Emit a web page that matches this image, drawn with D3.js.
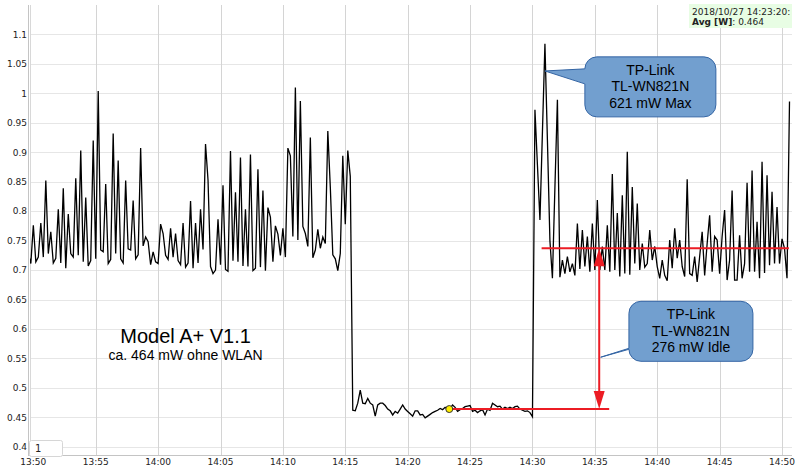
<!DOCTYPE html>
<html>
<head>
<meta charset="utf-8">
<script src="https://cdn.jsdelivr.net/npm/d3@7"></script>
<style>
  body { margin: 0; background: #fff; }
  svg { display: block; font-family: "DejaVu Sans", sans-serif; }
</style>
</head>
<body>
<div id="chart"></div>
<script>
// Samples every 12 s, starting 2018-10-27 13:49:36
const startTime = new Date(2018, 9, 27, 13, 49, 36);
const stepSeconds = 12;

// before the stick is removed (~0.72 W with spikes)
const wattsBefore = [
  0.728, 0.711, 0.776, 0.714, 0.722, 0.780, 0.722, 0.852, 0.728, 0.765,
  0.712, 0.720, 0.803, 0.712, 0.839, 0.703, 0.795, 0.728, 0.722, 0.856,
  0.725, 0.903, 0.714, 0.823, 0.707, 0.716, 0.920, 0.719, 1.004, 0.734,
  0.731, 0.846, 0.711, 0.718, 0.932, 0.728, 0.886, 0.719, 0.712, 0.852,
  0.736, 0.734, 0.818, 0.719, 0.726, 0.907, 0.741, 0.756, 0.748, 0.709,
  0.731, 0.714, 0.711, 0.778, 0.762, 0.725, 0.718, 0.771, 0.722, 0.762,
  0.716, 0.709, 0.780, 0.705, 0.712, 0.817,
  0.703, 0.780, 0.712, 0.803, 0.735, 0.914, 0.853, 0.706, 0.694, 0.700,
  0.786, 0.709, 0.844, 0.701, 0.698, 0.902, 0.716, 0.832, 0.714, 0.891,
  0.707, 0.803, 0.706, 0.896, 0.699, 0.703, 0.871, 0.705, 0.835, 0.699,
  0.806, 0.790, 0.714, 0.775, 0.761, 0.725, 0.771, 0.722, 0.907, 0.894,
  0.757, 1.010, 0.751, 0.987, 0.774, 0.762, 0.740, 0.925, 0.721, 0.734,
  0.769, 0.737, 0.756, 0.745, 0.936, 0.841, 0.726, 0.719, 0.699, 0.728,
  0.894, 0.778, 0.903, 0.859
];

// without WLAN stick (~0.464 W)
const wattsNoWlan = [
  0.462, 0.461, 0.474, 0.496, 0.474, 0.473, 0.482, 0.474, 0.471, 0.452,
  0.471, 0.474, 0.474, 0.470, 0.464, 0.461, 0.454, 0.460, 0.457, 0.464,
  0.471, 0.464, 0.460, 0.456, 0.452, 0.461, 0.461, 0.454, 0.455, 0.449,
  0.452, 0.455, 0.458, 0.460, 0.462, 0.465, 0.463, 0.467, 0.464, 0.465,
  0.471, 0.467, 0.460, 0.463, 0.465, 0.468, 0.469, 0.470, 0.460, 0.462,
  0.458, 0.461, 0.463, 0.454, 0.464, 0.462, 0.474, 0.471, 0.468, 0.469,
  0.464, 0.467, 0.465, 0.467, 0.465, 0.468, 0.469, 0.464, 0.462, 0.460,
  0.461, 0.458, 0.451
];

// TP-Link TL-WN821N plugged in again
const wattsAfter = [
  0.972, 0.878, 0.785, 0.935, 1.084, 0.920, 0.750, 0.686, 0.840, 0.989,
  0.688, 0.717, 0.694, 0.723, 0.697, 0.711, 0.691, 0.779, 0.702, 0.768,
  0.706, 0.757, 0.697, 0.779, 0.700, 0.819, 0.700, 0.740, 0.700, 0.776,
  0.697, 0.863, 0.700, 0.797, 0.689, 0.827, 0.694, 0.901, 0.692, 0.841,
  0.711, 0.813, 0.700, 0.745, 0.705, 0.711,
  0.768, 0.717, 0.740, 0.706, 0.686, 0.717, 0.691, 0.682, 0.751, 0.703,
  0.771, 0.720, 0.751, 0.706, 0.689, 0.854, 0.694, 0.691, 0.723, 0.680,
  0.723, 0.765, 0.691, 0.745, 0.793, 0.697, 0.757, 0.751, 0.694, 0.757,
  0.802, 0.683, 0.717, 0.835, 0.683, 0.683, 0.759, 0.686, 0.711, 0.848,
  0.697, 0.869, 0.697, 0.782, 0.686, 0.884, 0.695, 0.861, 0.708, 0.833,
  0.711, 0.807, 0.711, 0.753, 0.737, 0.686, 0.986
];

const yTicks = [0.4, 0.45, 0.5, 0.55, 0.6, 0.65, 0.7, 0.75, 0.8, 0.85, 0.9, 0.95, 1, 1.05, 1.1];

// hovered point shown in the legend
const hoverTime = new Date(2018, 9, 27, 14, 23, 20);
const hoverValue = 0.464;
const seriesName = 'Avg [W]';

// annotation levels
const idleLevel = 0.464;
const wlanLevel = 0.737;
const idleLineEnd = new Date(2018, 9, 27, 14, 36, 9);
const wlanLineStart = new Date(2018, 9, 27, 14, 30, 44);
const wlanLineEnd = new Date(2018, 9, 27, 14, 50, 33);
const arrowTime = new Date(2018, 9, 27, 14, 35, 21);

const callouts = [
  { lines: ['TP-Link', 'TL-WN821N', '621 mW Max'],
    box: [new Date(2018, 9, 27, 14, 39, 27), 1.011], tip: [new Date(2018, 9, 27, 14, 31, 0), 1.038],
    w: 131, h: 60, tailTop: 0, tailBottom: 15 },
  { lines: ['TP-Link', 'TL-WN821N', '276 mW Idle'],
    box: [new Date(2018, 9, 27, 14, 42, 42), 0.596], tip: [new Date(2018, 9, 27, 14, 35, 28), 0.552],
    w: 124, h: 60, tailTop: 35, tailBottom: 48 }
];

const watts = wattsBefore.concat(wattsNoWlan, wattsAfter);
const data = watts.map((v, i) => ({ t: new Date(startTime.getTime() + i * stepSeconds * 1000), v }));

const W = 800, H = 474;
const plot = { left: 30, right: 792, top: 5, bottom: 455 };

const svg = d3.select('#chart').append('svg')
  .attr('width', W).attr('height', H);

const x = d3.scaleTime()
  .domain([new Date(2018, 9, 27, 13, 49, 44), new Date(2018, 9, 27, 14, 50, 48)])
  .range([plot.left, plot.right]);

const y = d3.scaleLinear()
  .domain([0.386, 1.15])
  .range([plot.bottom, plot.top]);

const xTicks = x.ticks(d3.timeMinute.every(5));

// grid
svg.append('g').selectAll('line.h').data(yTicks).join('line')
  .attr('x1', plot.left).attr('x2', plot.right)
  .attr('y1', d => Math.round(y(d)) + 0.5).attr('y2', d => Math.round(y(d)) + 0.5)
  .attr('stroke', '#e6e6e6').attr('stroke-width', 1);

svg.append('g').selectAll('line.v').data(xTicks.filter(d => x(d) - plot.left > 5)).join('line')
  .attr('x1', d => Math.round(x(d)) + 0.5).attr('x2', d => Math.round(x(d)) + 0.5)
  .attr('y1', plot.top).attr('y2', plot.bottom)
  .attr('stroke', '#d4d4d4').attr('stroke-width', 1);

// axes (dygraphs look: only lines + labels)
svg.append('line').attr('x1', plot.left - 1.5).attr('x2', plot.left - 1.5)
  .attr('y1', plot.top).attr('y2', plot.bottom).attr('stroke', '#c4c4c4');
svg.append('line').attr('x1', plot.left + 0.5).attr('x2', plot.left + 0.5)
  .attr('y1', plot.top).attr('y2', plot.bottom).attr('stroke', '#d8d8d8');
svg.append('line').attr('x1', plot.left - 2).attr('x2', plot.right)
  .attr('y1', plot.bottom + 0.5).attr('y2', plot.bottom + 0.5).attr('stroke', '#c4c4c4');

svg.append('g').selectAll('text').data(yTicks).join('text')
  .attr('x', 27).attr('y', d => y(d) + 3.3)
  .attr('text-anchor', 'end')
  .attr('font-size', 9).attr('fill', '#222')
  .text(d => String(+d.toFixed(2)));

const fmt = d3.timeFormat('%H:%M');
svg.append('g').selectAll('text').data(xTicks).join('text')
  .attr('x', d => x(d)).attr('y', 465)
  .attr('text-anchor', 'middle')
  .attr('font-size', 9).attr('fill', '#222')
  .text(d => fmt(d));

// roller box
svg.append('rect').attr('x', 29.5).attr('y', 440.5).attr('width', 33).attr('height', 16)
  .attr('rx', 2).attr('fill', '#fff').attr('stroke', '#d6d6d6');
svg.append('text').attr('x', 35).attr('y', 452).attr('font-size', 10).attr('fill', '#222').text('1');

// series line
svg.append('defs').append('clipPath').attr('id', 'clip')
  .append('rect').attr('x', plot.left).attr('y', plot.top)
  .attr('width', plot.right - plot.left).attr('height', plot.bottom - plot.top);

const line = d3.line().x(d => x(d.t)).y(d => y(d.v));
svg.append('path').datum(data)
  .attr('clip-path', 'url(#clip)')
  .attr('fill', 'none').attr('stroke', '#000').attr('stroke-width', 1.3)
  .attr('stroke-linejoin', 'miter')
  .attr('d', line);

// red annotation lines and arrow
const red = '#ec1c24';
svg.append('line').attr('x1', x(hoverTime)).attr('x2', x(idleLineEnd))
  .attr('y1', y(idleLevel)).attr('y2', y(idleLevel))
  .attr('stroke', red).attr('stroke-width', 2);
svg.append('line').attr('x1', x(wlanLineStart)).attr('x2', x(wlanLineEnd))
  .attr('y1', y(wlanLevel)).attr('y2', y(wlanLevel))
  .attr('stroke', red).attr('stroke-width', 2);

const ax = x(arrowTime), ayTop = y(wlanLevel), ayBot = y(idleLevel);
svg.append('line').attr('x1', ax).attr('x2', ax)
  .attr('y1', ayTop + 10).attr('y2', ayBot - 10)
  .attr('stroke', red).attr('stroke-width', 2);
svg.append('path')
  .attr('d', `M${ax},${ayTop} L${ax - 5.5},${ayTop + 18} L${ax + 5.5},${ayTop + 18} Z`)
  .attr('fill', red);
svg.append('path')
  .attr('d', `M${ax},${ayBot} L${ax - 5.5},${ayBot - 18} L${ax + 5.5},${ayBot - 18} Z`)
  .attr('fill', red);

// hover dot
svg.append('circle').attr('cx', x(hoverTime)).attr('cy', y(hoverValue)).attr('r', 3.5)
  .attr('fill', '#ffee00').attr('stroke', '#333').attr('stroke-width', 1);

// callouts
function calloutPath(x0, y0, w, h, r, tip, a, b) {
  return `M${x0 + r},${y0} H${x0 + w - r} A${r},${r} 0 0 1 ${x0 + w},${y0 + r}` +
    ` V${y0 + h - r} A${r},${r} 0 0 1 ${x0 + w - r},${y0 + h}` +
    ` H${x0 + r} A${r},${r} 0 0 1 ${x0},${y0 + h - r}` +
    ` V${b} L${tip[0]},${tip[1]} L${x0},${a}` +
    ` V${y0 + r} A${r},${r} 0 0 1 ${x0 + r},${y0} Z`;
}

callouts.forEach(c => {
  const cx = x(c.box[0]), cy = y(c.box[1]);
  const x0 = cx - c.w / 2, y0 = cy - c.h / 2, r = 12;
  const a = y0 + r + c.tailTop, b = Math.min(y0 + r + c.tailBottom + 0, y0 + c.h - r);
  svg.append('path')
    .attr('d', calloutPath(x0, y0, c.w, c.h, r, [x(c.tip[0]), y(c.tip[1])], a, b))
    .attr('fill', '#729fcf').attr('stroke', '#3465a4').attr('stroke-width', 1);
  svg.append('text')
    .attr('text-anchor', 'middle')
    .attr('font-family', '"Liberation Sans", Arial, sans-serif')
    .attr('font-size', 14).attr('fill', '#000')
    .selectAll('tspan').data(c.lines).join('tspan')
    .attr('x', cx).attr('y', (d, i) => cy - 12 + i * 16.5)
    .text(d => d);
});

// model label
const modelX = x(new Date(2018, 9, 27, 14, 2, 12));
svg.append('text').attr('x', modelX).attr('y', y(0.5766))
  .attr('text-anchor', 'middle')
  .attr('font-family', '"Liberation Sans", Arial, sans-serif')
  .attr('font-size', 20).attr('fill', '#000')
  .text('Model A+ V1.1');
svg.append('text').attr('x', modelX).attr('y', y(0.5766) + 17.5)
  .attr('text-anchor', 'middle')
  .attr('font-family', '"Liberation Sans", Arial, sans-serif')
  .attr('font-size', 14).attr('fill', '#000')
  .text('ca. 464 mW ohne WLAN');

// legend (top right)
const legend = svg.append('g');
legend.append('rect').attr('x', 689).attr('y', 4).attr('width', 103).attr('height', 24)
  .attr('fill', '#e8fde4');
legend.append('text').attr('x', 692).attr('y', 15).attr('font-size', 9).attr('fill', '#222')
  .text(d3.timeFormat('%Y/%m/%d %H:%M:%S')(hoverTime) + ':');
const l2 = legend.append('text').attr('x', 692).attr('y', 25).attr('font-size', 9).attr('fill', '#222');
l2.append('tspan').attr('font-weight', 'bold').text(seriesName);
l2.append('tspan').text(': ' + hoverValue.toFixed(3));
</script>
</body>
</html>
